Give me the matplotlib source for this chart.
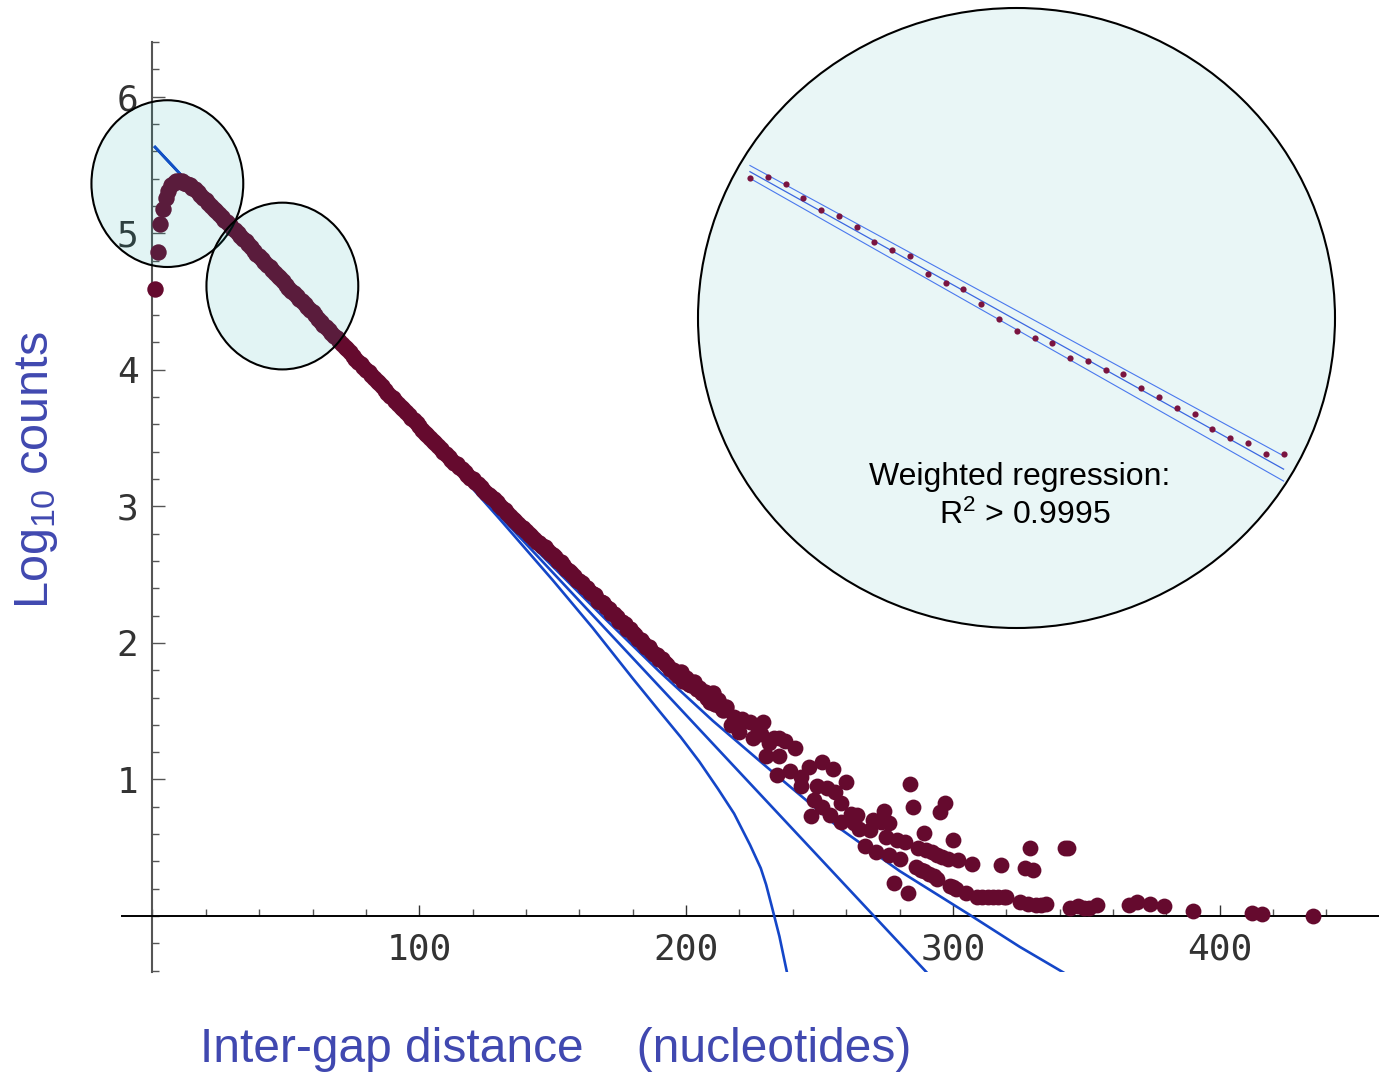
import numpy as np
import matplotlib.pyplot as plt
from matplotlib.patches import Ellipse
from matplotlib.ticker import MultipleLocator, FixedLocator

plt.rcParams['font.family'] = ['Liberation Sans', 'DejaVu Sans']

# inter-gap distance (nt) vs log10 of the counts, dense part
core_dist = np.arange(1, 216)
core_log = [
    4.59, 4.86, 5.07, 5.18, 5.26, 5.31, 5.35, 5.37, 5.38, 5.38,
    5.38, 5.37, 5.36, 5.35, 5.33, 5.32, 5.30, 5.28, 5.26, 5.24,
    5.22, 5.20, 5.18, 5.16, 5.14, 5.12, 5.10, 5.08, 5.06, 5.04,
    5.02, 5.00, 4.98, 4.96, 4.94, 4.92, 4.90, 4.87, 4.85, 4.83,
    4.81, 4.79, 4.77, 4.75, 4.73, 4.71, 4.69, 4.67, 4.65, 4.62,
    4.60, 4.58, 4.56, 4.54, 4.52, 4.50, 4.48, 4.46, 4.44, 4.42,
    4.40, 4.37, 4.35, 4.33, 4.31, 4.29, 4.27, 4.25, 4.23, 4.21,
    4.19, 4.17, 4.15, 4.13, 4.10, 4.08, 4.06, 4.04, 4.02, 4.00,
    3.98, 3.96, 3.94, 3.92, 3.90, 3.88, 3.85, 3.83, 3.81, 3.79,
    3.77, 3.75, 3.73, 3.71, 3.69, 3.67, 3.65, 3.63, 3.61, 3.59,
    3.56, 3.54, 3.52, 3.50, 3.48, 3.46, 3.44, 3.42, 3.40, 3.38,
    3.36, 3.34, 3.32, 3.31, 3.29, 3.27, 3.25, 3.23, 3.21, 3.20,
    3.18, 3.16, 3.14, 3.12, 3.10, 3.08, 3.07, 3.05, 3.03, 3.01,
    2.99, 2.97, 2.95, 2.93, 2.91, 2.89, 2.87, 2.85, 2.84, 2.82,
    2.80, 2.78, 2.76, 2.74, 2.73, 2.71, 2.70, 2.68, 2.66, 2.64,
    2.63, 2.60, 2.59, 2.57, 2.54, 2.53, 2.51, 2.49, 2.46, 2.45,
    2.44, 2.41, 2.40, 2.37, 2.36, 2.35, 2.31, 2.30, 2.29, 2.26,
    2.25, 2.22, 2.21, 2.19, 2.16, 2.15, 2.14, 2.10, 2.10, 2.07,
    2.06, 2.03, 2.02, 2.00, 1.97, 1.97, 1.94, 1.92, 1.91, 1.88,
    1.88, 1.85, 1.84, 1.81, 1.80, 1.78, 1.76, 1.79, 1.72, 1.74,
    1.70, 1.69, 1.71, 1.66, 1.67, 1.63, 1.64, 1.60, 1.57, 1.63,
    1.55, 1.58, 1.53, 1.51, 1.53,
]

# sparse tail, several distances have more than one value
tail_dist = [
    217, 218, 220, 221, 224, 225, 227, 228, 229, 230, 231, 233, 234, 235, 235,
    237, 239, 241, 243, 243, 246, 247, 248, 249, 251, 251, 253, 254, 255, 256,
    258, 258, 260, 262, 263, 264, 265, 267, 269, 270, 271, 273, 274, 275, 276,
    276, 278, 279, 280, 282, 283, 284, 285, 286, 287, 288, 289, 289, 290, 291,
    292, 293, 294, 294, 295, 296, 297, 298, 299, 300, 300, 301, 302, 305, 307,
    309, 311, 313, 315, 317, 318, 319, 320, 325, 327, 328, 329, 330, 331, 333,
    335, 342, 343, 344, 347, 349, 351, 354, 366, 369, 374, 379, 390, 412, 416,
    435,
]
tail_log = [
    1.40, 1.46, 1.35, 1.44, 1.42, 1.30, 1.36, 1.33, 1.42, 1.17, 1.27, 1.30, 1.03, 1.17, 1.30,
    1.28, 1.06, 1.23, 1.02, 0.95, 1.09, 0.73, 0.85, 0.95, 0.80, 1.13, 0.94, 0.74, 1.08, 0.91,
    0.83, 0.69, 0.98, 0.75, 0.68, 0.74, 0.64, 0.51, 0.63, 0.70, 0.47, 0.69, 0.77, 0.58, 0.68,
    0.45, 0.24, 0.56, 0.42, 0.54, 0.17, 0.97, 0.80, 0.36, 0.50, 0.34, 0.61, 0.33, 0.48, 0.31,
    0.47, 0.29, 0.27, 0.45, 0.76, 0.43, 0.83, 0.42, 0.22, 0.56, 0.21, 0.20, 0.41, 0.17, 0.38,
    0.14, 0.14, 0.14, 0.14, 0.14, 0.37, 0.14, 0.14, 0.10, 0.35, 0.09, 0.50, 0.34, 0.08, 0.08,
    0.09, 0.50, 0.50, 0.06, 0.07, 0.06, 0.06, 0.08, 0.08, 0.10, 0.09, 0.07, 0.04, 0.02, 0.015,
    0.0,
]

# fitted models
fit_lin_x = [1, 291]
fit_lin_y = [5.63, -0.43]
fit_low_x = [1, 110, 130, 150, 165, 180, 190, 198, 205, 212, 218, 224, 228, 230, 232, 235, 238]
fit_low_y = [5.63, 3.35, 2.91, 2.46, 2.11, 1.74, 1.50, 1.31, 1.13, 0.93, 0.75, 0.52, 0.35,
             0.23, 0.08, -0.15, -0.43]
fit_high_x = [1, 100, 130, 150, 170, 190, 210, 231.5, 257.7, 280, 307, 325, 342]
fit_high_y = [5.63, 3.56, 2.95, 2.56, 2.17, 1.79, 1.43, 1.07, 0.64, 0.33, 0.0, -0.225, -0.42]

# weighted regression on the linear stretch
reg_dist = np.arange(40, 71)
reg_log = [
    4.830, 4.834, 4.816, 4.785, 4.758, 4.744, 4.719, 4.687, 4.668, 4.654,
    4.613, 4.593, 4.579, 4.546, 4.512, 4.484, 4.469, 4.457, 4.424, 4.417,
    4.396, 4.387, 4.356, 4.335, 4.310, 4.297, 4.263, 4.243, 4.231, 4.207,
    4.206,
]
reg_fit_x = [40, 70]
reg_fit_mid = [4.845, 4.172]
reg_fit_hi = [4.859, 4.202]
reg_fit_lo = [4.830, 4.145]

dot_color = '#650A2E'
fit_color = '#1446C8'
label_color = '#4048B0'
W, H = 1379, 1072

fig = plt.figure(figsize=(W / 100, H / 100), dpi=100)
ax = fig.add_axes([122 / W, 1 - 972 / H, 1 - 122 / W, (972 - 42) / H])

ax.scatter(core_dist, core_log, s=140, color=dot_color, linewidths=0, zorder=3)
ax.scatter(tail_dist, tail_log, s=130, color=dot_color, linewidths=0, zorder=3)
for fx, fy in [(fit_lin_x, fit_lin_y), (fit_low_x, fit_low_y), (fit_high_x, fit_high_y)]:
    ax.plot(fx, fy, color=fit_color, lw=1.9, zorder=2.8)

ax.set_xlim(-11.4, 459.7)
ax.set_ylim(-0.41, 6.40)

for sp in ['top', 'right']:
    ax.spines[sp].set_visible(False)
ax.spines['left'].set_position(('data', 0))
ax.spines['bottom'].set_position(('data', 0))
ax.spines['left'].set_color('#555555')
ax.spines['left'].set_linewidth(1.5)
ax.spines['bottom'].set_color('black')
ax.spines['bottom'].set_linewidth(1.4)

ax.xaxis.set_major_locator(FixedLocator([100, 200, 300, 400]))
ax.xaxis.set_minor_locator(MultipleLocator(20))
ax.yaxis.set_major_locator(FixedLocator([1, 2, 3, 4, 5, 6]))
ax.yaxis.set_minor_locator(MultipleLocator(0.2))
ax.tick_params(axis='x', which='major', direction='in', length=8, width=1.0, color='#333333',
               pad=12, labelsize=26, labelcolor='#333333')
ax.tick_params(axis='x', which='minor', direction='in', length=5, width=1.0, color='#555555')
ax.tick_params(axis='y', which='major', direction='in', length=9, width=1.0, color='#555555',
               pad=10, labelsize=26, labelcolor='#333333')
ax.tick_params(axis='y', which='minor', direction='in', length=5, width=1.0, color='#555555')
for lab in ax.get_xticklabels() + ax.get_yticklabels():
    lab.set_family('DejaVu Sans Mono')

# highlighted regions of the curve
for cx, cy in [(5.6, 5.363), (48.7, 4.613)]:
    ax.add_patch(Ellipse((cx, cy), 56.9, 1.221, facecolor=(15 / 255, 169 / 255, 169 / 255, 0.117),
                         edgecolor='black', lw=1.5, zorder=4, clip_on=False))

fig.text(37 / W, 1 - 470 / H, r'Log$\mathregular{_{10}}$ counts', rotation=90,
         ha='center', va='center', fontsize=35, color=label_color)
fig.text(200 / W, 1 - 1049 / H, 'Inter-gap distance    (nucleotides)',
         ha='left', va='center', fontsize=34.5, color=label_color)

# zoomed view of the regression fit
ins = fig.add_axes([698 / W, 1 - 628 / H, 637 / W, 620 / H])
ins.set_axis_off()
ins.add_patch(Ellipse((0.5, 0.5), 1, 1, transform=ins.transAxes, facecolor='#E9F6F6',
                      edgecolor='black', lw=1.5, clip_on=False))
ins.plot(reg_fit_x, reg_fit_mid, color='#3A66E0', lw=0.9)
ins.plot(reg_fit_x, reg_fit_hi, color='#4A78EE', lw=0.8)
ins.plot(reg_fit_x, reg_fit_lo, color='#4A78EE', lw=0.8)
ins.scatter(reg_dist, reg_log, s=20, color='#7A1440', linewidths=0, zorder=3)
ins.set_xlim(37.08, 72.89)
ins.set_ylim(3.8126, 5.2153)
ins.text(0.505, 1 - (477 - 8) / 620, 'Weighted regression:', transform=ins.transAxes,
         ha='center', va='center', fontsize=23, color='black')
ins.text(0.513, 1 - (515 - 8) / 620, r'R$\mathregular{^2}$ > 0.9995', transform=ins.transAxes,
         ha='center', va='center', fontsize=23, color='black')

fig.savefig('out.png', dpi=100)
